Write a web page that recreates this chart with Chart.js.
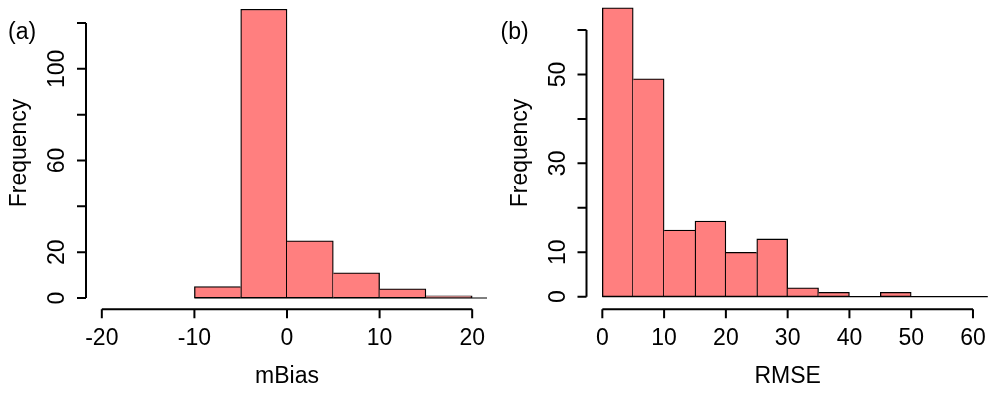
<!DOCTYPE html>
<html>
<head>
<meta charset="utf-8">
<script src="https://cdn.jsdelivr.net/npm/chart.js@4.4.1/dist/chart.umd.min.js"></script>
<style>
  html, body { margin: 0; padding: 0; background: #fff; }
  .wrap { position: relative; width: 998px; height: 393px; overflow: hidden; }
  canvas { position: absolute; top: 0; }
  #histA { left: 0; }
  #histB { left: 499px; }
</style>
</head>
<body>
<div class="wrap">
  <canvas id="histA" width="499" height="393"></canvas>
  <canvas id="histB" width="499" height="393"></canvas>
</div>
<script>
// (a) mBias histogram
const mbiasBreaks = [-10, -5, 0, 5, 10, 15, 20, 25]
const mbiasCounts = [5, 126, 25, 11, 4, 1, 0]
const mbiasXTicks = [-20, -10, 0, 10, 20]
const mbiasYTicks = [0, 20, 40, 60, 80, 100, 120]
const mbiasYLabels = [0, 20, 60, 100]

// (b) RMSE histogram
const rmseBreaks = [0, 5, 10, 15, 20, 25, 30, 35, 40, 45, 50, 55, 60, 65]
const rmseCounts = [65, 49, 15, 17, 10, 13, 2, 1, 0, 1, 0, 0, 0]
const rmseXTicks = [0, 10, 20, 30, 40, 50, 60]
const rmseYTicks = [0, 10, 20, 30, 40, 50, 60]
const rmseYLabels = [0, 10, 30, 50]

const FONT = '23px "Liberation Sans", Arial, Helvetica, sans-serif'
const FILL = '#FF7F7F'
const EDGE = 1.3

function makeHist(id, cfg) {
    const bars = cfg.counts.map((c, i) => ({ x: (cfg.breaks[i] + cfg.breaks[i + 1]) / 2, y: c }))
    const counts = cfg.counts

    // draw shared edges only once, like R's rect(); empty bins get no box
    const edgeWidth = (ctx) => {
        const i = ctx.dataIndex
        const c = counts[i]
        if (!c) return 0
        const prev = i > 0 ? counts[i - 1] : -1
        const next = i < counts.length - 1 ? counts[i + 1] : -1
        return { top: EDGE, bottom: EDGE, left: c >= prev ? EDGE : 0, right: c > next ? EDGE : 0 }
    }

    // R style axes, ticks and titles
    const rAxes = {
        id: 'rAxes',
        afterDraw(chart) {
            const { ctx, chartArea: a, scales: { x, y } } = chart
            ctx.save()
            ctx.strokeStyle = '#000'
            ctx.fillStyle = '#000'
            ctx.lineWidth = 2
            ctx.font = FONT

            const yb = a.bottom
            ctx.beginPath()
            ctx.moveTo(x.getPixelForValue(cfg.xTicks[0]), yb)
            ctx.lineTo(x.getPixelForValue(cfg.xTicks[cfg.xTicks.length - 1]), yb)
            cfg.xTicks.forEach(v => {
                const px = x.getPixelForValue(v)
                ctx.moveTo(px, yb)
                ctx.lineTo(px, yb + 9)
            })
            const xl = a.left - 1
            ctx.moveTo(xl, y.getPixelForValue(cfg.yTicks[0]))
            ctx.lineTo(xl, y.getPixelForValue(cfg.yTicks[cfg.yTicks.length - 1]))
            cfg.yTicks.forEach(v => {
                const py = y.getPixelForValue(v)
                ctx.moveTo(xl, py)
                ctx.lineTo(xl - 9, py)
            })
            ctx.stroke()

            ctx.textAlign = 'center'
            ctx.textBaseline = 'alphabetic'
            cfg.xTicks.forEach(v => {
                ctx.fillText(String(v), x.getPixelForValue(v), yb + 36)
            })
            ctx.fillText(cfg.xTitle, (a.left + a.right) / 2, 382.5)

            cfg.yLabels.forEach(v => {
                ctx.save()
                ctx.translate(xl - 22, y.getPixelForValue(v))
                ctx.rotate(-Math.PI / 2)
                ctx.fillText(String(v), 0, 0)
                ctx.restore()
            })
            ctx.save()
            ctx.translate(a.left - 61, 153)
            ctx.rotate(-Math.PI / 2)
            ctx.fillText('Frequency', 0, 0)
            ctx.restore()

            ctx.textAlign = 'left'
            ctx.fillText(cfg.panel, cfg.panelX, 38.5)
            ctx.restore()
        }
    }

    return new Chart(document.getElementById(id), {
        type: 'bar',
        data: {
            datasets: [
                {
                    type: 'bar',
                    data: bars,
                    backgroundColor: (ctx) => counts[ctx.dataIndex] ? FILL : 'rgba(0,0,0,0)',
                    borderColor: '#000',
                    borderWidth: edgeWidth,
                    borderSkipped: false,
                    barPercentage: 1,
                    categoryPercentage: 1,
                    order: 1,
                },
                {
                    type: 'line',
                    data: [{ x: cfg.breaks[0], y: 0 }, { x: cfg.breaks[cfg.breaks.length - 1], y: 0 }],
                    borderColor: '#000',
                    borderWidth: 1.2,
                    pointRadius: 0,
                    order: 2,
                },
            ],
        },
        options: {
            responsive: false,
            animation: false,
            events: [],
            layout: { padding: cfg.padding },
            plugins: { legend: { display: false }, tooltip: { enabled: false } },
            scales: {
                x: {
                    type: 'linear',
                    display: false,
                    offset: false,
                    min: cfg.xMin,
                    max: cfg.xMax,
                    afterBuildTicks: s => { s.ticks = cfg.xTicks.map(v => ({ value: v })) },
                },
                y: {
                    type: 'linear',
                    display: false,
                    min: cfg.yMin,
                    max: cfg.yMax,
                    afterBuildTicks: s => { s.ticks = cfg.yTicks.map(v => ({ value: v })) },
                },
            },
        },
        plugins: [rAxes],
    })
}

makeHist('histA', {
    breaks: mbiasBreaks,
    counts: mbiasCounts,
    xTicks: mbiasXTicks,
    yTicks: mbiasYTicks,
    yLabels: mbiasYLabels,
    xTitle: 'mBias',
    panel: '(a)',
    panelX: 8,
    xMin: -21.6,
    xMax: 21.6,
    yMin: -4.93,
    yMax: 130.03,
    padding: { left: 87, right: 12, top: 0, bottom: 83.7 },
})

makeHist('histB', {
    breaks: rmseBreaks,
    counts: rmseCounts,
    xTicks: rmseXTicks,
    yTicks: rmseYTicks,
    yLabels: rmseYLabels,
    xTitle: 'RMSE',
    panel: '(b)',
    panelX: 1.5,
    xMin: -2.4,
    xMax: 62.4,
    yMin: -2.83,
    yMax: 66.75,
    padding: { left: 88.5, right: 10.2, top: 0, bottom: 83.7 },
})
</script>
</body>
</html>
